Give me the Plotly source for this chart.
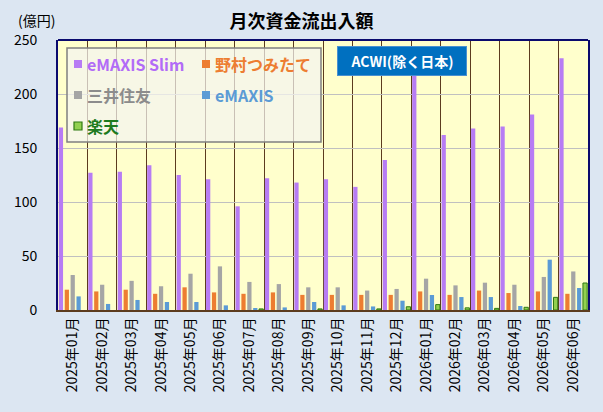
import plotly.graph_objects as go

# ---- data ----
months = ["2025年01月", "2025年02月", "2025年03月", "2025年04月", "2025年05月", "2025年06月",
          "2025年07月", "2025年08月", "2025年09月", "2025年10月", "2025年11月", "2025年12月",
          "2026年01月", "2026年02月", "2026年03月", "2026年04月", "2026年05月", "2026年06月"]
slim = [169, 127, 128, 134, 125, 121, 96, 122, 118, 121, 114, 139, 228, 162, 168, 170, 181, 233]
nomura = [18.8, 17.2, 18.8, 15, 21, 16.3, 15, 16.3, 14, 14, 14, 14, 17.2, 14, 18, 15.7, 17.2, 15]
smtb = [32.4, 23.4, 27, 22, 33.6, 40.4, 26, 24, 21, 21, 18, 19.5, 29, 22.8, 25.3, 23.4, 30.6, 35.7]
emaxis = [12.6, 5.6, 9.3, 7.4, 7.4, 4.3, 1, 2.4, 7.4, 4.3, 3.3, 8.6, 13.9, 12, 12, 3.7, 46.6, 20.4]
rakuten = [None, None, None, None, None, None, 1, None, 1, None, 1, 3, 5, 2, 1.5, 2.5, 11.7, 25]
series_names = ["eMAXIS Slim", "野村つみたて", "三井住友", "eMAXIS", "楽天"]
y_ticks = [0, 50, 100, 150, 200, 250]

FONT = "Noto Sans CJK JP"
W, H = 603, 412
PL, PR, PT, PB = 58, 588, 40, 310


def px(x):
    return (x - PL) / (PR - PL)


def py(y):
    return (PB - y) / (PB - PT)


colors = ["#B77CF4", "#ED7D31", "#A5A5A5", "#5B9BD5", "#92D050"]
text_colors = ["#B26BF7", "#ED7D31", "#8C8C8C", "#5B9BD5", "#1E7B1E"]
values = [slim, nomura, smtb, emaxis, rakuten]

fig = go.Figure()
for i, (name, vals) in enumerate(zip(series_names, values)):
    line = dict(width=1, color="#2F7A12") if i == 4 else dict(width=0)
    fig.add_trace(go.Bar(x=months, y=vals, name=name, marker=dict(color=colors[i], line=line),
                         showlegend=False))

fig.update_layout(
    width=W, height=H,
    margin=dict(l=PL, r=W - PR, t=PT, b=H - PB),
    paper_bgcolor="#DCE6F2",
    plot_bgcolor="#FFFFCC",
    barmode="group", bargap=0, bargroupgap=0.28,
    font=dict(family=FONT, color="#000000"),
    title=dict(text="<b>月次資金流出入額</b>", x=0.5, xanchor="center", y=1 - 22 / H,
               yanchor="middle", font=dict(size=18, family=FONT, color="#000000")),
)
fig.update_xaxes(
    type="category", tickson="boundaries", showgrid=True, gridcolor="#5C3B1E", gridwidth=1.3,
    tickangle=-90, tickfont=dict(size=14, family=FONT, color="#000000"),
    ticks="outside", ticklen=8, tickcolor="rgba(0,0,0,0)",
    showline=True, linecolor="#5C3B1E", linewidth=2,
)
fig.update_yaxes(
    range=[0, 250], tickvals=y_ticks, showgrid=True, gridcolor="#C0C0C0", gridwidth=1,
    tickfont=dict(size=14, family=FONT, color="#000000"),
    ticks="outside", ticklen=16, tickcolor="rgba(0,0,0,0)",
    showline=True, linecolor="#0A0A6E", linewidth=2, mirror=True, zeroline=False,
)

shapes = []
annotations = []
# top border
shapes.append(dict(type="line", xref="paper", yref="paper", x0=0, x1=1, y0=1, y1=1,
                   line=dict(color="#0A0A6E", width=2)))
# legend box
shapes.append(dict(type="rect", xref="paper", yref="paper", x0=px(67), x1=px(321), y0=py(48), y1=py(142),
                   fillcolor="rgba(244,244,240,0.72)", line=dict(color="#808080", width=1.5)))
legend_pos = [(74, 64), (202, 64), (74, 95), (202, 95), (74, 126)]
for i, (sx, sy) in enumerate(legend_pos):
    lw = 1.2 if i == 4 else 0
    shapes.append(dict(type="rect", xref="paper", yref="paper", x0=px(sx), x1=px(sx + 8),
                       y0=py(sy - 4), y1=py(sy + 4), fillcolor=colors[i],
                       line=dict(color="#2F7A12", width=lw) if i == 4 else dict(width=0)))
    annotations.append(dict(xref="paper", yref="paper", x=px(sx + 11), y=py(sy), xanchor="left",
                            yanchor="middle", showarrow=False, text="<b>%s</b>" % series_names[i],
                            font=dict(size=16, family=FONT, color=text_colors[i])))
# unit label
annotations.append(dict(xref="paper", yref="paper", x=px(16), y=py(20), xanchor="left", yanchor="middle",
                        showarrow=False, text="(億円)", font=dict(size=14, family=FONT, color="#000000")))
# ACWI box
annotations.append(dict(xref="paper", yref="paper", x=px(401.5), y=py(61.5), xanchor="center",
                        yanchor="middle", showarrow=False, text="<b>ACWI(除く日本)</b>",
                        font=dict(size=14, family=FONT, color="#FFFFFF"),
                        bgcolor="#0070C0", bordercolor="#4A90D0", borderwidth=1,
                        width=126, height=26, borderpad=1))
fig.update_layout(shapes=shapes, annotations=annotations)

fig.write_html("out.html")
